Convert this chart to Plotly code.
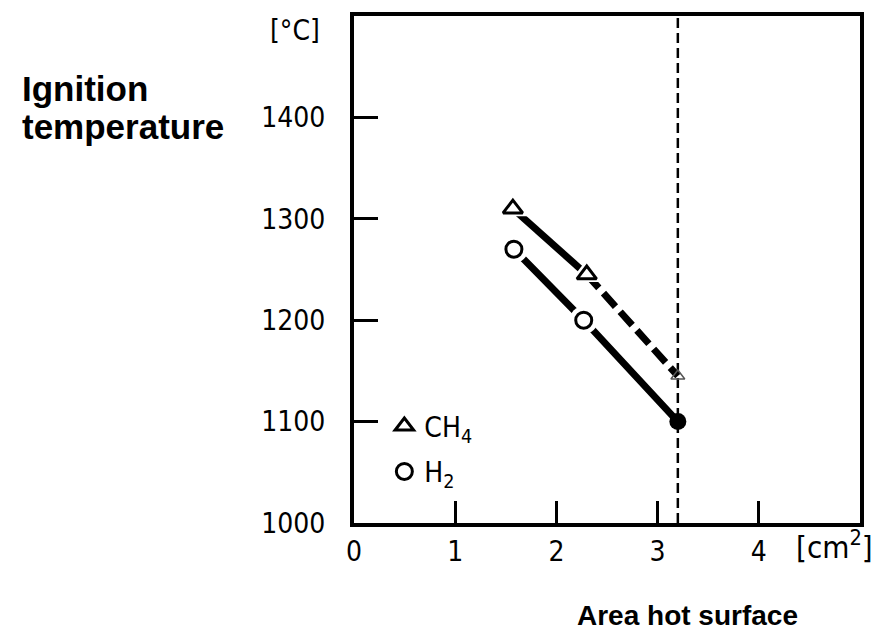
import plotly.graph_objects as go

# ---- data ----
ch4_x = [1.57, 2.30]
ch4_y = [1310, 1245]
ch4_ext_x = [2.30, 3.20]
ch4_ext_y = [1245, 1145]
h2_x = [1.58, 2.27, 3.20]
h2_y = [1270, 1200, 1100]
limit_x = 3.2
x_ticks = [0, 1, 2, 3, 4]
y_ticks = [1000, 1100, 1200, 1300, 1400]
x_range = [0, 5]
y_range = [1000, 1500]

TECH = "Liberation Sans Narrow, DejaVu Sans Condensed, Arial Narrow, sans-serif"
BOLD = "Liberation Sans, Arial, sans-serif"

fig = go.Figure()

# vertical dashed limit line
fig.add_trace(go.Scatter(x=[limit_x, limit_x], y=y_range, mode="lines",
                         line=dict(color="black", width=2.5, dash="10px,5px"),
                         showlegend=False, hoverinfo="skip"))

# CH4 lines
fig.add_trace(go.Scatter(x=ch4_x, y=ch4_y, mode="lines",
                         line=dict(color="black", width=7), showlegend=False))
fig.add_trace(go.Scatter(x=ch4_ext_x, y=ch4_ext_y, mode="lines",
                         line=dict(color="black", width=7, dash="18px,7px"),
                         showlegend=False))
# H2 lines
fig.add_trace(go.Scatter(x=h2_x, y=h2_y, mode="lines",
                         line=dict(color="black", width=7), showlegend=False))

# white halo markers to create gaps
fig.add_trace(go.Scatter(x=ch4_x, y=ch4_y, mode="markers",
                         marker=dict(symbol="triangle-up", size=30, color="white"),
                         showlegend=False))
fig.add_trace(go.Scatter(x=h2_x[:2], y=h2_y[:2], mode="markers",
                         marker=dict(symbol="circle", size=28, color="white"),
                         showlegend=False))

# actual markers
fig.add_trace(go.Scatter(x=ch4_x, y=ch4_y, mode="markers", name="CH<sub>4</sub>",
                         legendgroup="a",
                         marker=dict(symbol="triangle-up-open", size=17,
                                     color="black", line=dict(width=3))))
fig.add_trace(go.Scatter(x=ch4_ext_x[1:], y=ch4_ext_y[1:], mode="markers",
                         marker=dict(symbol="triangle-up-open", size=12,
                                     color="#555", line=dict(width=1.5)),
                         showlegend=False))
fig.add_trace(go.Scatter(x=h2_x[:2], y=h2_y[:2], mode="markers", name="H<sub>2</sub>",
                         legendgroup="b",
                         marker=dict(symbol="circle-open", size=16,
                                     color="black", line=dict(width=3))))
fig.add_trace(go.Scatter(x=h2_x[2:], y=h2_y[2:], mode="markers",
                         marker=dict(symbol="circle", size=17, color="black"),
                         showlegend=False))

axis_common = dict(showline=True, mirror=True, linewidth=4, linecolor="black",
                   ticks="inside", tickwidth=2.5, tickcolor="black",
                   showgrid=False, zeroline=False,
                   tickfont=dict(family=TECH, size=28, color="black"))

fig.update_xaxes(range=x_range, tickvals=x_ticks, ticklen=22, **axis_common)
fig.update_yaxes(range=y_range, tickvals=y_ticks, ticklen=24,
                 ticklabelstandoff=19, **axis_common)

fig.update_layout(
    width=882, height=642,
    margin=dict(l=354, r=22, t=16, b=119),
    paper_bgcolor="white", plot_bgcolor="white",
    showlegend=True,
    legend=dict(x=0.06, y=0.24, xanchor="left", yanchor="top",
                bgcolor="rgba(0,0,0,0)", font=dict(family=TECH, size=28, color="black"),
                itemwidth=30, tracegroupgap=6, traceorder="grouped"),
    annotations=[
        dict(text="<b>Ignition</b>", xref="paper", yref="paper",
             x=-0.66, y=(523 - 89) / 507, xanchor="left", yanchor="middle", align="left",
             showarrow=False, font=dict(family=BOLD, size=35, color="black")),
        dict(text="<b>temperature</b>", xref="paper", yref="paper",
             x=-0.66, y=(523 - 126) / 507, xanchor="left", yanchor="middle", align="left",
             showarrow=False, font=dict(family=BOLD, size=35, color="black")),
        dict(text="<b>Area hot surface</b>", xref="paper", yref="paper",
             x=0.66, y=-0.183, xanchor="center", yanchor="middle",
             showarrow=False, font=dict(family=BOLD, size=28, color="black")),
        dict(text="[cm<sup>2</sup>]", xref="paper", yref="paper",
             x=0.949, y=-0.043, xanchor="center", yanchor="middle",
             showarrow=False, font=dict(family=TECH, size=31, color="black")),
        dict(text="[°C]", xref="paper", yref="paper",
             x=-0.117, y=0.972, xanchor="center", yanchor="middle",
             showarrow=False, font=dict(family=TECH, size=28, color="black")),
    ],
)

fig.write_html("out.html")
